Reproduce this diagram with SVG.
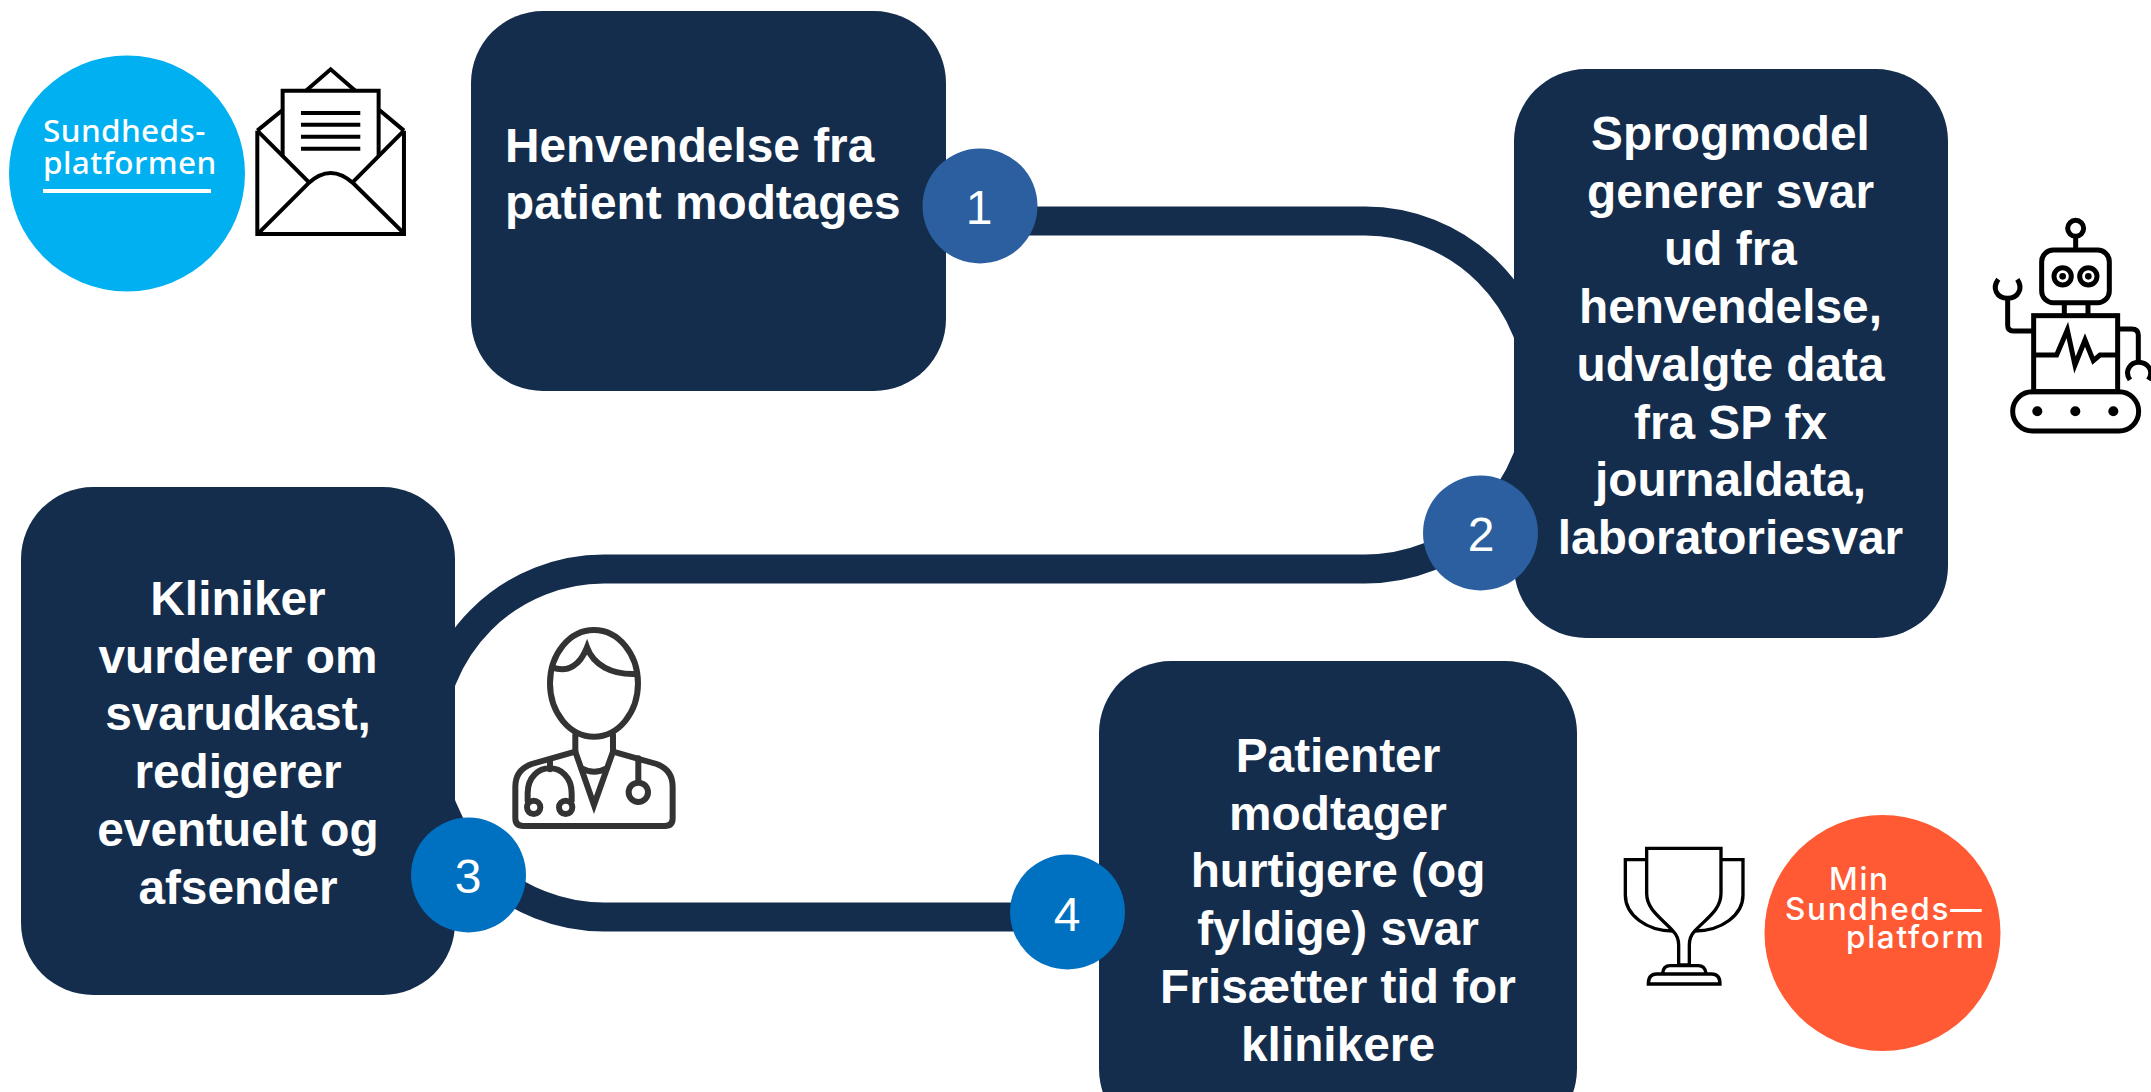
<svg xmlns="http://www.w3.org/2000/svg" width="2151" height="1092" viewBox="0 0 2151 1092">
<style>
.box{fill:#142d4c}
.t{font-family:"Liberation Sans",Arial,sans-serif;font-weight:700;font-size:47.8px;fill:#fff}
.c{text-anchor:middle}
.n{font-family:"Liberation Sans",Arial,sans-serif;font-size:48px;fill:#fff;text-anchor:middle}
.i{fill:none;stroke-linejoin:miter}
</style>
<rect width="2151" height="1092" fill="#fff"/>
<g id="connectors"><path d="M980 221H1365A174 174 0 0 1 1365 569H604A174 174 0 0 0 604 917H1067" fill="none" stroke="#142d4c" stroke-width="29"/></g>
<g id="node-1"><rect class="box" x="471" y="11" width="475" height="380" rx="72"/><text class="t" x="505" y="162">Henvendelse fra</text><text class="t" x="505" y="219">patient modtages</text></g>
<g id="node-2"><rect class="box" x="1514" y="69" width="434" height="569" rx="72"/><text class="t c" y="150"><tspan x="1730.500">Sprogmodel</tspan><tspan x="1730.500" dy="57.7">generer svar</tspan><tspan x="1730.500" dy="57.7">ud fra</tspan><tspan x="1730.500" dy="57.7">henvendelse,</tspan><tspan x="1730.500" dy="57.7">udvalgte data</tspan><tspan x="1730.500" dy="57.7">fra SP fx</tspan><tspan x="1730.500" dy="57.7">journaldata,</tspan><tspan x="1730.500" dy="57.7">laboratoriesvar</tspan></text></g>
<g id="node-3"><rect class="box" x="21" y="487" width="434" height="508" rx="72"/><text class="t c" y="615"><tspan x="238">Kliniker</tspan><tspan x="238" dy="57.7">vurderer om</tspan><tspan x="238" dy="57.7">svarudkast,</tspan><tspan x="238" dy="57.7">redigerer</tspan><tspan x="238" dy="57.7">eventuelt og</tspan><tspan x="238" dy="57.7">afsender</tspan></text></g>
<g id="node-4"><rect class="box" x="1099" y="661" width="478" height="480" rx="72"/><text class="t c" y="772"><tspan x="1338">Patienter</tspan><tspan x="1338" dy="57.7">modtager</tspan><tspan x="1338" dy="57.7">hurtigere (og</tspan><tspan x="1338" dy="57.7">fyldige) svar</tspan><tspan x="1338" dy="57.7">Frisætter tid for</tspan><tspan x="1338" dy="57.7">klinikere</tspan></text></g>
<g id="badge-1"><circle cx="980" cy="206" r="57.5" fill="#2b5f9f"/><text class="n" x="979" y="224">1</text></g>
<g id="badge-2"><circle cx="1480.500" cy="533" r="57.5" fill="#2b5f9f"/><text class="n" x="1481" y="551">2</text></g>
<g id="badge-3"><circle cx="468.500" cy="875" r="57.5" fill="#0070c0"/><text class="n" x="468" y="893">3</text></g>
<g id="badge-4"><circle cx="1067.500" cy="912" r="57.5" fill="#0070c0"/><text class="n" x="1067" y="931">4</text></g>
<g id="sundhedsplatformen"><circle cx="127" cy="173.5" r="118" fill="#00b0f0"/><text font-family="'Noto Sans',sans-serif" font-size="31.5" font-weight="500" letter-spacing=".4" fill="#fff"><tspan x="43" y="142">Sundheds-</tspan><tspan x="43" y="174">platformen</tspan></text><rect x="43" y="189" width="168" height="4" fill="#fff"/></g>
<g id="envelope" transform="translate(0 40) scale(.3333)" class="i" stroke="#000" stroke-width="12">
<path d="M772 272V582H1212V272"/><path d="M772 272L848 210M1212 272L1138 210"/><path d="M848 350V152H1136V350"/><path d="M918 152L992 88L1066 152"/><path d="M903 219H1081M903 254H1081M903 290H1081M903 326H1081"/><path d="M772 272L925 425M1212 272L1060 425"/><path d="M775 580L925 430Q992 368 1060 430L1212 580"/></g>
<g id="robot" transform="translate(1960 200) scale(.3333)" class="i" stroke="#000" stroke-width="15">
<circle cx="347" cy="85" r="24"/><path d="M347 110V150"/><rect x="245" y="150" width="203" height="158" rx="35"/><circle cx="308" cy="229" r="26"/><circle cx="385" cy="229" r="26"/><circle cx="308" cy="229" r="10" fill="#000" stroke="none"/><circle cx="385" cy="229" r="10" fill="#000" stroke="none"/><path d="M313 308V347M384 308V347"/><rect x="221" y="347" width="252" height="228"/><path d="M221 465H290L322 390L345 495L375 420L400 482L420 465H473"/><path d="M221 393H160Q143 393 143 376V295"/><path d="M115 238C95 265 110 295 143 295C175 295 190 265 172 238"/><path d="M473 387H515Q535 387 535 405V487"/><path d="M510 540C490 510 515 487 535 487C560 487 585 510 565 540"/><rect x="158" y="575" width="378" height="118" rx="59"/><circle cx="232" cy="634" r="15" fill="#000" stroke="none"/><circle cx="346" cy="634" r="15" fill="#000" stroke="none"/><circle cx="460" cy="634" r="15" fill="#000" stroke="none"/></g>
<g id="doctor" transform="translate(490 610) scale(.3333)" class="i" stroke="#333" stroke-width="18" stroke-linecap="round" stroke-linejoin="round">
<ellipse cx="312" cy="220" rx="132" ry="160"/><path d="M186 172C235 190 270 165 291 112C310 165 365 195 438 192"/><path d="M256 375V425L312 585L369 425V375"/><path d="M275 475Q312 495 350 475"/><path d="M256 425L125 462Q76 480 76 530V625Q76 648 100 648H525Q548 648 548 625V530Q548 480 500 462L369 425"/><path d="M180 455V478M113 572V550C113 450 245 450 245 550V572"/><circle cx="131" cy="592" r="20"/><circle cx="227" cy="592" r="20"/><path d="M445 445V510"/><circle cx="445" cy="547" r="29"/></g>
<g id="trophy" transform="translate(1600 800) scale(.3333)" class="i" stroke="#000" stroke-width="10">
<path d="M140 145H363V280C363 330 320 355 285 392Q268 410 268 435V495H236V435Q236 410 218 392C185 355 140 330 140 280Z"/><path d="M140 179H76V285C76 345 140 393 218 393M363 179H429V285C429 345 365 393 285 393"/><path d="M188 520Q190 497 210 497H295Q315 497 318 520"/><path d="M145 552Q145 522 170 522H335Q360 522 360 552Z"/></g>
<g id="min-sundhedsplatform"><circle cx="1882.500" cy="933" r="118" fill="#ff5a33"/><text font-family="Inter,sans-serif" font-size="31.5" font-weight="500" letter-spacing="1.700" fill="#fff"><tspan x="1829" y="890">Min</tspan><tspan x="1785" y="920">Sundheds—</tspan><tspan x="1846" y="948">platform</tspan></text></g>
</svg>
